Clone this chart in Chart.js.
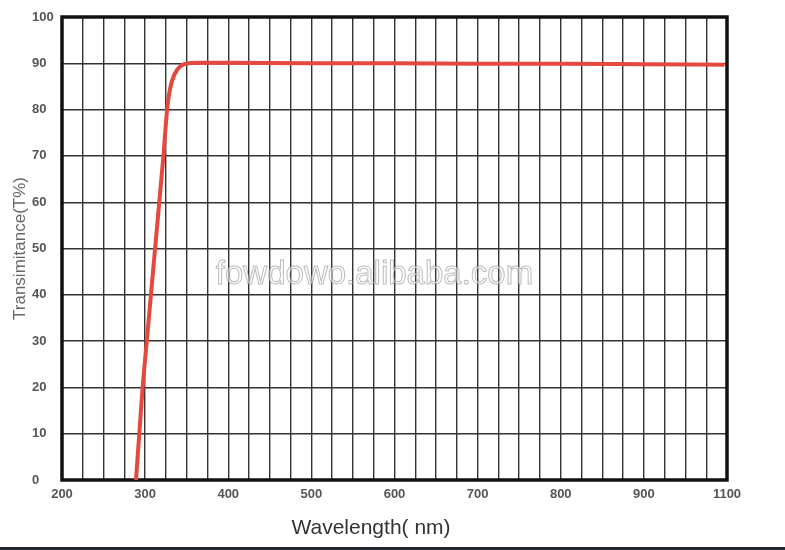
<!DOCTYPE html>
<html>
<head>
<meta charset="utf-8">
<script src="https://cdn.jsdelivr.net/npm/chart.js@4/dist/chart.umd.min.js"></script>
<style>
  html, body { margin: 0; padding: 0; background: #fff; }
  #graphique { display: block; }
  .bande { height: 3px; background: #242a31; }
</style>
</head>
<body>
<canvas id="graphique" width="785" height="547"></canvas>
<div class="bande"></div>
<script>
// Données
const wavelength = [289, 293, 297, 302, 307, 312, 317, 322, 325, 327, 330, 335, 342, 352, 370, 400, 500, 600, 700, 800, 900, 997];
const transmittance = [0, 10, 20, 30, 40, 50, 60, 70, 77, 81, 84.5, 87.5, 89.3, 90, 90.1, 90.1, 90, 90, 89.9, 89.9, 89.8, 89.7];

// Graduations de l'axe X (la dernière est marquée 1100 sur l'original)
const xTickValues = [200, 300, 400, 500, 600, 700, 800, 900, 1000];
const xTickLabels = ["200", "300", "400", "500", "600", "700", "800", "900", "1100"];
const yTickValues = [0, 10, 20, 30, 40, 50, 60, 70, 80, 90, 100];

const police = "'Liberation Sans', Arial, sans-serif";

// Cadre épais + filigrane
const cadrePlugin = {
    id: "cadre",
    beforeDatasetsDraw(chart) {
        const { ctx, chartArea } = chart;
        ctx.save();
        // filigrane
        ctx.font = "33px " + police;
        ctx.textAlign = "center";
        ctx.textBaseline = "alphabetic";
        ctx.fillStyle = "rgba(255,255,255,0.55)";
        ctx.strokeStyle = "rgba(120,120,120,0.5)";
        ctx.lineWidth = 1;
        const cx = (chartArea.left + chartArea.right) / 2 - 20;
        ctx.fillText("fowdowo.alibaba.com", cx, 284);
        ctx.strokeText("fowdowo.alibaba.com", cx, 284);
        // cadre
        ctx.strokeStyle = "#111";
        ctx.lineWidth = 3.5;
        ctx.strokeRect(chartArea.left, chartArea.top, chartArea.right - chartArea.left, chartArea.bottom - chartArea.top);
        ctx.restore();
    }
};

const points = wavelength.map((w, i) => ({ x: w, y: transmittance[i] }));

const config = {
    type: "line",
    data: {
        datasets: [{
            label: "Transmittance",
            data: points,
            borderColor: "#e5483f",
            borderWidth: 4,
            pointRadius: 0,
            cubicInterpolationMode: "monotone",
            fill: false
        }]
    },
    options: {
        responsive: false,
        animation: false,
        layout: { padding: { left: 15, right: 58, top: 17, bottom: 0 } },
        plugins: {
            legend: { display: false },
            tooltip: { enabled: false },
            title: {
                display: true,
                position: "bottom",
                text: "Wavelength( nm)",
                color: "#333",
                font: { family: police, size: 21, weight: "normal" },
                padding: { top: 9.4, bottom: 6.4 }
            }
        },
        scales: {
            x: {
                type: "linear",
                min: 200,
                max: 1000,
                grid: { color: "#333", lineWidth: 1.4, drawTicks: false },
                border: { display: false },
                ticks: {
                    stepSize: 25,
                    autoSkip: false,
                    maxRotation: 0,
                    padding: 7,
                    color: "#555",
                    font: { family: police, size: 13, weight: "bold" },
                    callback: function (value) {
                        const idx = xTickValues.indexOf(value);
                        return idx >= 0 ? xTickLabels[idx] : "";
                    }
                },
                afterFit: function (scale) { scale.height = 26; }
            },
            y: {
                type: "linear",
                min: 0,
                max: 100,
                grid: { color: "#333", lineWidth: 1.4, drawTicks: false },
                border: { display: false },
                afterBuildTicks: function (scale) {
                    scale.ticks = yTickValues.map(v => ({ value: v }));
                },
                ticks: {
                    crossAlign: "far",
                    color: "#555",
                    font: { family: police, size: 13, weight: "bold" }
                },
                afterFit: function (scale) { scale.width = 30; }
            },
            // axe vide qui ne porte que le titre vertical
            yTitre: {
                type: "linear",
                position: "left",
                weight: 1,
                grid: { display: false },
                border: { display: false },
                ticks: { display: false },
                title: {
                    display: true,
                    text: "Transimitance(T%)",
                    color: "#666",
                    font: { family: police, size: 17, weight: "normal" },
                    padding: { top: -5, bottom: 0 }
                },
                afterFit: function (scale) { scale.width = 17; }
            }
        }
    },
    plugins: [cadrePlugin]
};

new Chart(document.querySelector("#graphique"), config);
</script>
</body>
</html>
